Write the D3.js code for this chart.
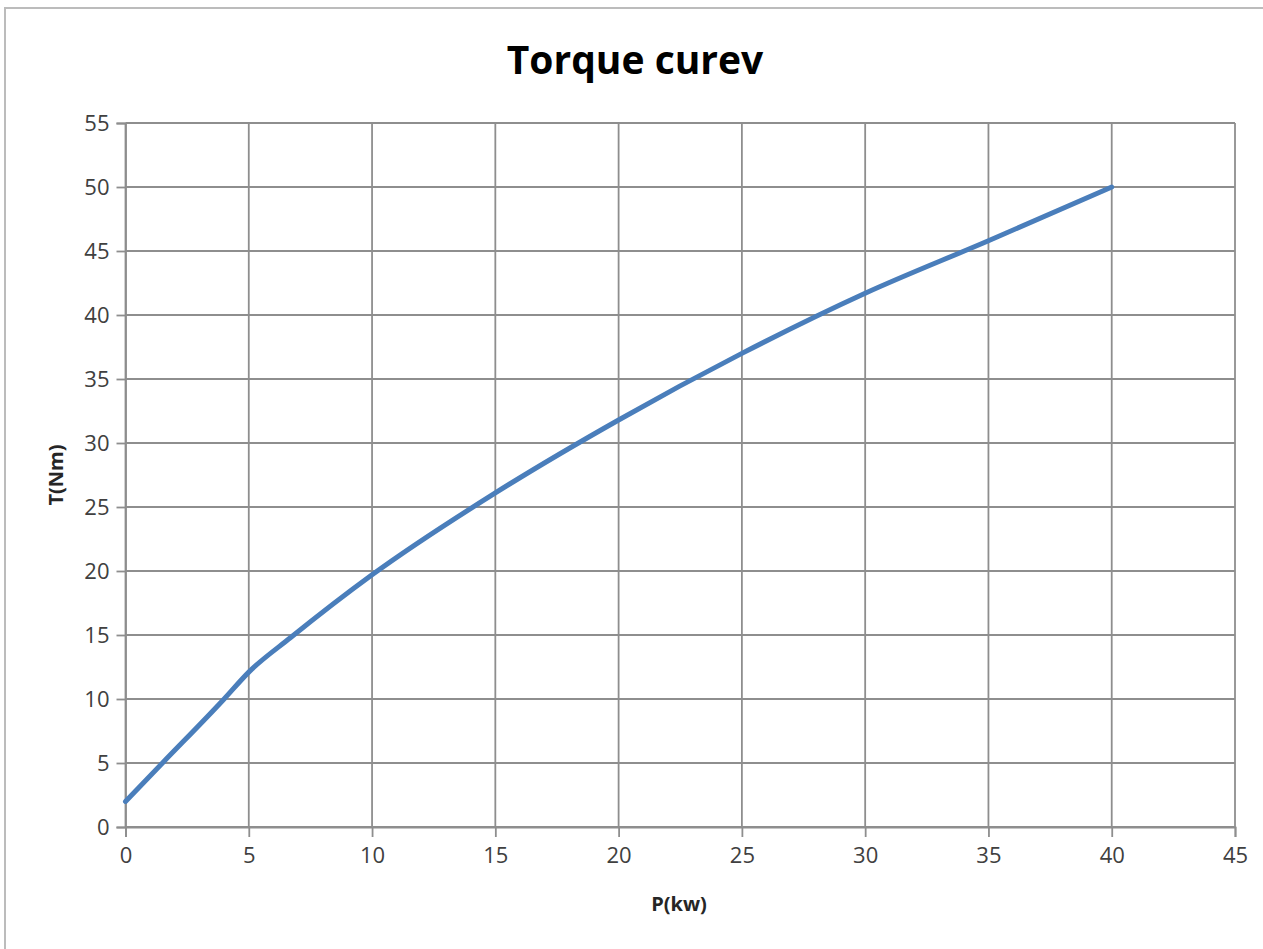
<!DOCTYPE html>
<html>
<head>
<meta charset="utf-8">
<script src="https://cdn.jsdelivr.net/npm/d3@7"></script>
<style>
  html, body { margin: 0; padding: 0; background: #fff; }
  svg { display: block; }
</style>
</head>
<body>
<svg id="chart" width="1263" height="949"></svg>
<script>
// ---- data ----
const title = "Torque curev";
const xLabel = "P(kw)";
const yLabel = "T(Nm)";
const powerKw = [0, 1.5, 4, 5, 6.7, 10, 15, 20, 25, 30, 35, 40];
const torqueNm = [2, 5, 10, 12.1, 14.8, 19.7, 26.1, 31.8, 37, 41.7, 45.8, 50];
const xTicks = [0, 5, 10, 15, 20, 25, 30, 35, 40, 45];
const yTicks = [0, 5, 10, 15, 20, 25, 30, 35, 40, 45, 50, 55];

(function () {
// ---- layout ----
const svg = d3.select("#chart");
const W = 1263, H = 949;
const pLeft = 125.5, pRight = 1235, pTop = 123, pBottom = 827;

const x = d3.scaleLinear().domain([0, 45]).range([pLeft, pRight]);
const y = d3.scaleLinear().domain([0, 55]).range([pBottom, pTop]);

// outer border
svg.append("rect")
  .attr("x", 5).attr("y", 8)
  .attr("width", W + 20).attr("height", H + 20)
  .attr("fill", "#fff").attr("stroke", "#bcbcbc").attr("stroke-width", 2);

const gridColor = "#8e8e8e";

// gridlines
svg.append("g").selectAll("line").data(yTicks).join("line")
  .attr("x1", pLeft).attr("x2", pRight)
  .attr("y1", d => y(d)).attr("y2", d => y(d))
  .attr("stroke", gridColor).attr("stroke-width", 1.8);
svg.append("g").selectAll("line").data(xTicks).join("line")
  .attr("y1", pTop).attr("y2", pBottom)
  .attr("x1", d => x(d)).attr("x2", d => x(d))
  .attr("stroke", gridColor).attr("stroke-width", 1.8);

// axes
const fontFam = "'Open Sans', 'DejaVu Sans', sans-serif";
const yAxis = d3.axisLeft(y).tickValues(yTicks).tickSize(9).tickPadding(7).tickFormat(d3.format("d"));
const gy = svg.append("g").attr("transform", `translate(${pLeft},0)`).call(yAxis);
const xAxis = d3.axisBottom(x).tickValues(xTicks).tickSize(10).tickPadding(10).tickFormat(d3.format("d"));
const gx = svg.append("g").attr("transform", `translate(0,${pBottom})`).call(xAxis);
[gx, gy].forEach(g => {
  g.select(".domain").attr("stroke", gridColor).attr("stroke-width", 1.8);
  g.selectAll(".tick line").attr("stroke", gridColor).attr("stroke-width", 1.8);
  g.selectAll(".tick text").attr("fill", "#404040")
    .style("font-family", fontFam).style("font-size", "22px");
});

// line
const line = d3.line()
  .x((d, i) => x(powerKw[i]))
  .y(d => y(d))
  .curve(d3.curveMonotoneX);
svg.append("path")
  .datum(torqueNm)
  .attr("d", line)
  .attr("fill", "none")
  .attr("stroke", "#4a7ebb")
  .attr("stroke-width", 5)
  .attr("stroke-linecap", "round")
  .attr("stroke-linejoin", "round");

// title
svg.append("text")
  .attr("x", 635).attr("y", 74)
  .attr("text-anchor", "middle")
  .style("font-family", fontFam).style("font-weight", "bold").style("font-size", "39px")
  .attr("fill", "#000").text(title);

// axis titles
svg.append("text")
  .attr("x", 679).attr("y", 911)
  .attr("text-anchor", "middle")
  .style("font-family", fontFam).style("font-weight", "bold").style("font-size", "20px")
  .attr("fill", "#262626").text(xLabel);
svg.append("text")
  .attr("transform", "translate(63,475) rotate(-90)")
  .attr("text-anchor", "middle")
  .style("font-family", fontFam).style("font-weight", "bold").style("font-size", "20px")
  .attr("fill", "#262626").text(yLabel);
})();
</script>
</body>
</html>
